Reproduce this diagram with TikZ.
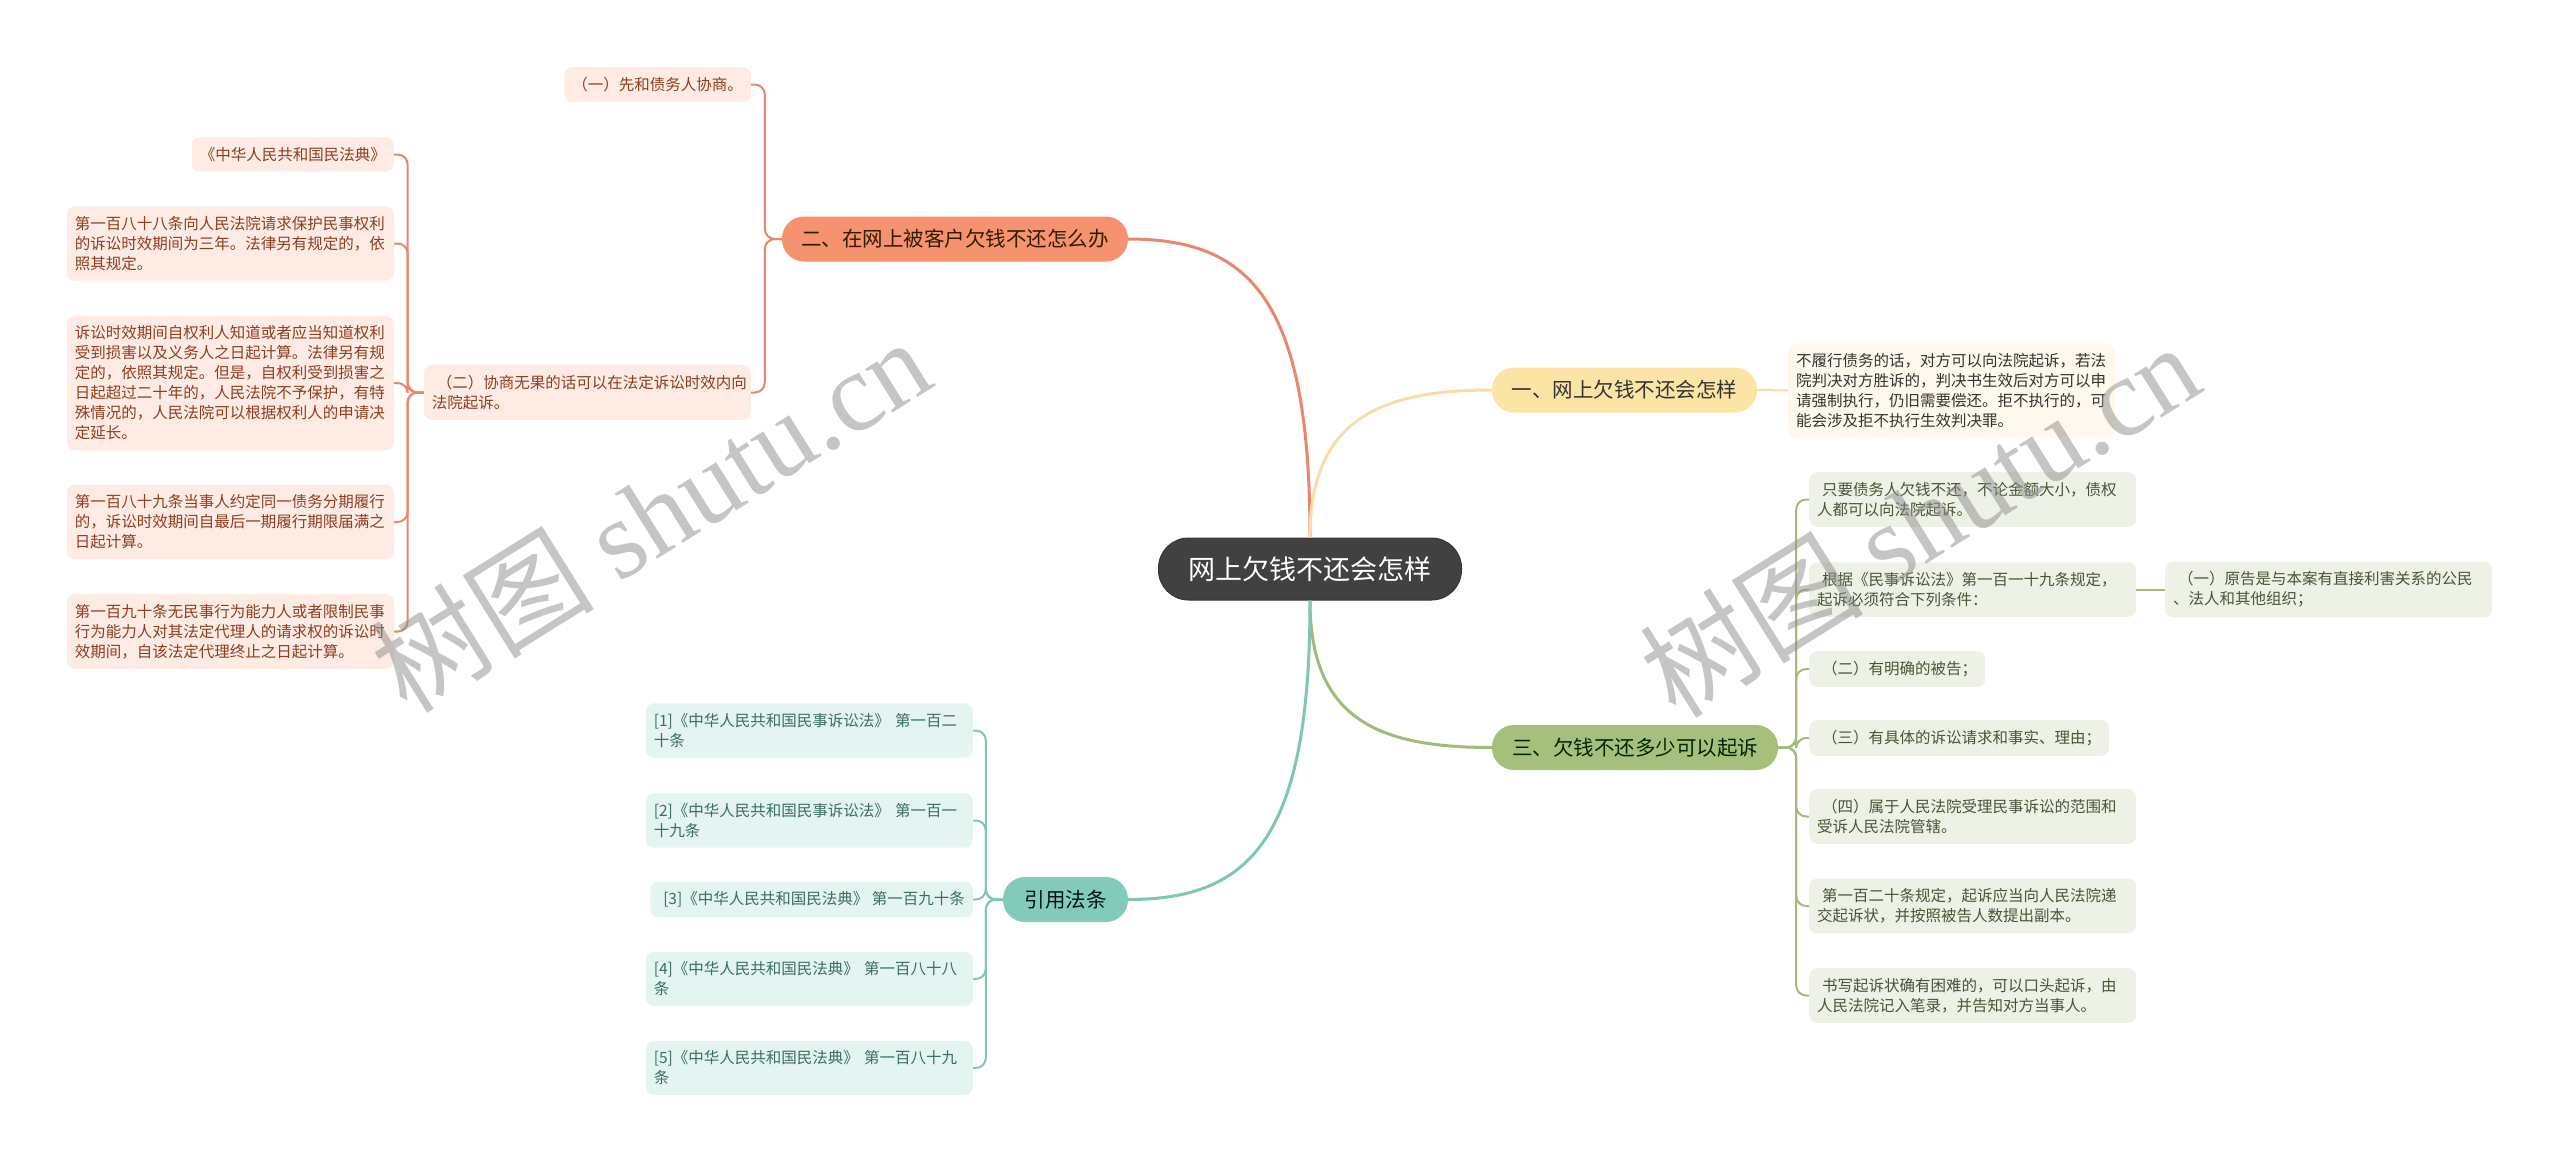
\documentclass[tikz,border=0pt]{standalone}
\usepackage{fontspec}
\setmainfont{Noto Sans CJK SC}
\newfontfamily\wmserif{Liberation Serif}
\usetikzlibrary{positioning,calc}
\definecolor{rootgray}{HTML}{414141}
\definecolor{orfill}{HTML}{F5936F}
\definecolor{orline}{HTML}{E8876A}
\definecolor{orleaf}{HTML}{FDEBE4}
\definecolor{ortext}{HTML}{8E3E20}
\definecolor{yefill}{HTML}{FCE3A6}
\definecolor{yeline}{HTML}{F8DEA6}
\definecolor{yeleaf}{HTML}{FEF9EC}
\definecolor{grfill}{HTML}{A6BF7C}
\definecolor{grline}{HTML}{A3BB7A}
\definecolor{grleaf}{HTML}{EEF2E6}
\definecolor{grtext}{HTML}{4B5436}
\definecolor{tefill}{HTML}{82CBBA}
\definecolor{teline}{HTML}{80C6B6}
\definecolor{teleaf}{HTML}{E4F4F0}
\definecolor{tetext}{HTML}{3A6E62}
\definecolor{darktext}{HTML}{333333}

\begin{document}
\begin{tikzpicture}[x=1pt, y=-1pt,
    every node/.style={inner sep=0pt},
    rootbox/.style={rectangle, rounded corners=30pt, fill=rootgray, draw=rootgray!85!black,
                    line width=1pt, minimum height=62pt, minimum width=303pt,
                    text=white, font=\fontsize{27}{32}\selectfont},
    branchbox/.style={rectangle, rounded corners=22pt, minimum height=45pt,
                      font=\fontsize{20.5}{24}\selectfont},
    leafbox/.style={rectangle, rounded corners=8pt, inner xsep=8pt, inner ysep=10pt,
                    align=left, font=\fontsize{15.5}{20}\selectfont},
    wide/.style={text width=311pt},
    orleafbox/.style={leafbox, fill=orleaf, text=ortext},
    yeleafbox/.style={leafbox, fill=yeleaf, text=darktext},
    grleafbox/.style={leafbox, fill=grleaf, text=grtext},
    teleafbox/.style={leafbox, fill=teleaf, text=tetext},
    mainlink/.style={line width=3pt},
    sublink/.style={line width=2pt, rounded corners=10pt},
    watermark/.style={font=\fontsize{112}{120}\selectfont, text=black!45, text opacity=0.5},
]
\useasboundingbox (0,0) rectangle (2560,1163);

\node[rootbox] (root) at (1310,569) {网上欠钱不还会怎样};

% main branches
\node[branchbox, fill=orfill, text=black!80!orange, minimum width=346pt] (howto) at (955,239) {二、在网上被客户欠钱不还怎么办};
\node[branchbox, fill=yefill, text=darktext, minimum width=265pt] (result) at (1624.5,390) {一、网上欠钱不还会怎样};
\node[branchbox, fill=grfill, text=black!85!green, minimum width=286pt] (amount) at (1635,747.5) {三、欠钱不还多少可以起诉};
\node[branchbox, fill=tefill, text=black!85!teal, minimum width=125pt] (cite) at (1065.5,899.5) {引用法条};

\draw[mainlink, orline] (root.north) .. controls +(0,-238) and +(122,0) .. (howto.east);
\draw[mainlink, yeline] (root.north) .. controls +(0,-118) and +(-112,0) .. (result.west);
\draw[mainlink, grline] (root.south) .. controls +(0,120) and +(-112,0) .. (amount.west);
\draw[mainlink, teline] (root.south) .. controls +(0,239) and +(122,0) .. (cite.east);

% left: what to do
\node[orleafbox, anchor=east] (talk) at (751,84.5) {（一）先和债务人协商。};
\node[orleafbox, wide, anchor=east] (sue) at (751,392.5) {\hspace*{5pt}（二）协商无果的话可以在法定诉讼时效内向\\法院起诉。};

\node[orleafbox, anchor=east] (code) at (394,154.5) {《中华人民共和国民法典》};
\node[orleafbox, wide, anchor=east] (art188) at (394,243.5) {第一百八十八条向人民法院请求保护民事权利\\的诉讼时效期间为三年。法律另有规定的，依\\照其规定。};
\node[orleafbox, wide, anchor=east] (period) at (394,383) {诉讼时效期间自权利人知道或者应当知道权利\\受到损害以及义务人之日起计算。法律另有规\\定的，依照其规定。但是，自权利受到损害之\\日起超过二十年的，人民法院不予保护，有特\\殊情况的，人民法院可以根据权利人的申请决\\定延长。};
\node[orleafbox, wide, anchor=east] (art189) at (394,522) {第一百八十九条当事人约定同一债务分期履行\\的，诉讼时效期间自最后一期履行期限届满之\\日起计算。};
\node[orleafbox, wide, anchor=east] (art190) at (394,631.5) {第一百九十条无民事行为能力人或者限制民事\\行为能力人对其法定代理人的请求权的诉讼时\\效期间，自该法定代理终止之日起计算。};

\foreach \leaf in {talk,sue}
  \draw[sublink, orline] (howto.west) -- ++(-17,0) |- (\leaf.east);
\foreach \leaf in {code,art188,period,art189,art190}
  \draw[sublink, orline] (sue.west) -- ++(-16,0) |- (\leaf.east);

% right: consequences
\node[yeleafbox, wide, anchor=west] (verdict) at (1788,390.5) {不履行债务的话，对方可以向法院起诉，若法\\院判决对方胜诉的，判决书生效后对方可以申\\请强制执行，仍旧需要偿还。拒不执行的，可\\能会涉及拒不执行生效判决罪。};
\draw[sublink, yeline] (result.east) -- (verdict.west);

% right: conditions for suing
\node[grleafbox, wide, anchor=west] (anysum) at (1809,499.5) {\hspace*{5pt}只要债务人欠钱不还，不论金额大小，债权\\人都可以向法院起诉。};
\node[grleafbox, wide, anchor=west] (rule119) at (1809,589.5) {\hspace*{5pt}根据《民事诉讼法》第一百一十九条规定，\\起诉必须符合下列条件：};
\node[grleafbox, wide, anchor=west] (plaintiff) at (2165,589.5) {\hspace*{5pt}（一）原告是与本案有直接利害关系的公民\\、法人和其他组织；};
\node[grleafbox, anchor=west] (defendant) at (1809,669) {\hspace*{5pt}（二）有明确的被告；};
\node[grleafbox, anchor=west] (claim) at (1809,738) {\hspace*{5pt}（三）有具体的诉讼请求和事实、理由；};
\node[grleafbox, wide, anchor=west] (scope) at (1809,816.5) {\hspace*{5pt}（四）属于人民法院受理民事诉讼的范围和\\受诉人民法院管辖。};
\node[grleafbox, wide, anchor=west] (rule120) at (1809,906) {\hspace*{5pt}第一百二十条规定，起诉应当向人民法院递\\交起诉状，并按照被告人数提出副本。};
\node[grleafbox, wide, anchor=west] (oral) at (1809,995.5) {\hspace*{5pt}书写起诉状确有困难的，可以口头起诉，由\\人民法院记入笔录，并告知对方当事人。};

\foreach \leaf in {anysum,rule119,defendant,claim,scope,rule120,oral}
  \draw[sublink, grline] (amount.east) -- ++(18,0) |- (\leaf.west);
\draw[sublink, grline] (rule119.east) -- (plaintiff.west);

% bottom: cited articles
\node[teleafbox, wide, anchor=east] (ref1) at (973,730.5) {[1]《中华人民共和国民事诉讼法》 第一百二\\十条};
\node[teleafbox, wide, anchor=east] (ref2) at (973,820.5) {[2]《中华人民共和国民事诉讼法》 第一百一\\十九条};
\node[teleafbox, anchor=east] (ref3) at (973,899.5) {\hspace*{5pt}[3]《中华人民共和国民法典》 第一百九十条};
\node[teleafbox, wide, anchor=east] (ref4) at (973,979) {[4]《中华人民共和国民法典》 第一百八十八\\条};
\node[teleafbox, wide, anchor=east] (ref5) at (973,1068) {[5]《中华人民共和国民法典》 第一百八十九\\条};

\foreach \leaf in {ref1,ref2,ref3,ref4,ref5}
  \draw[sublink, teline] (cite.west) -- ++(-17,0) |- (\leaf.east);

% watermarks
\node[watermark, rotate=32] (wmleft) at (650,514) {树图 {\wmserif shutu.cn}};
\node[watermark, rotate=32] (wmright) at (1919,519) {树图 {\wmserif shutu.cn}};

\end{tikzpicture}
\end{document}
